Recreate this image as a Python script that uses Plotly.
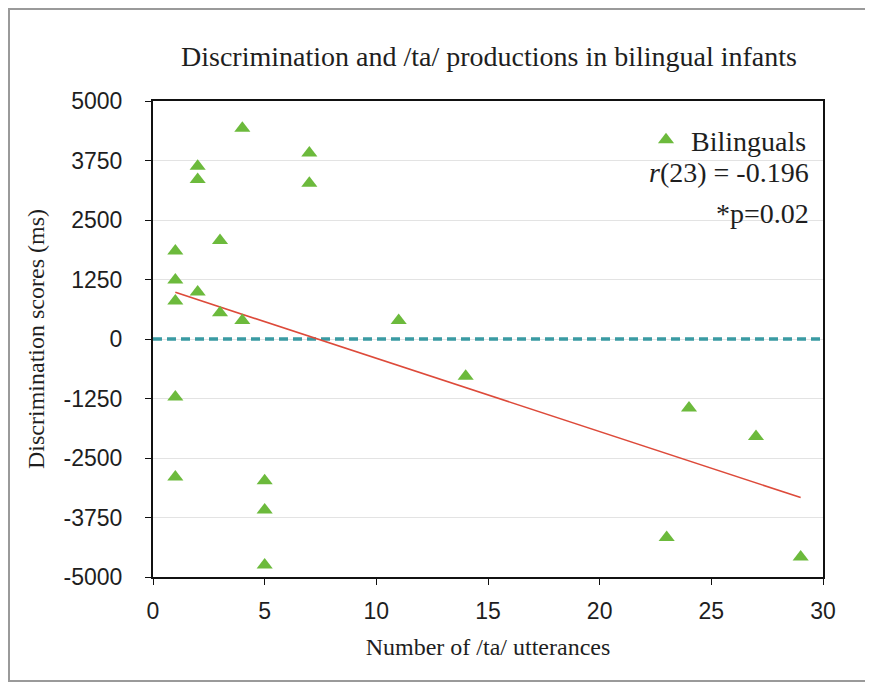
import plotly.graph_objects as go

# Data
utterances = [1, 1, 1, 1, 1, 2, 2, 2, 3, 3, 4, 4, 7, 7, 5, 5, 5, 11, 14, 24, 27, 23, 29]
scores = [1850, 1240, 800, -1220, -2900, 3630, 3350, 990, 2070, 550, 4430, 390,
          3910, 3270, -2980, -3590, -4750, 390, -780, -1450, -2050, -4170, -4580]
trend_x = [1, 29]
trend_y = [980, -3330]
zero_x = [0, 30]
zero_y = [0, 0]
y_ticks = [-5000, -3750, -2500, -1250, 0, 1250, 2500, 3750, 5000]
y_labels = ["-5000", "-3750", "-2500", "-1250", "0", "1250", "2500", "3750", "5000"]
x_ticks = [0, 5, 10, 15, 20, 25, 30]

W, H = 873, 682
OX, OY = 8, 7          # page offset of the figure
L, T = 153 - OX, 100 - OY
pw, ph = 670, 476
R, B = W - L - pw, H - T - ph

def px(x):             # screen x -> paper x
    return (x - OX - L) / pw

def py(y):             # screen y -> paper y
    return (T + ph - (y - OY)) / ph

fig = go.Figure()

fig.add_trace(go.Scatter(
    x=zero_x, y=zero_y, mode="lines",
    line=dict(color="#3a9ba3", width=3.5, dash="9px,5px"),
    showlegend=False, hoverinfo="skip"))

fig.add_trace(go.Scatter(
    x=trend_x, y=trend_y, mode="lines",
    line=dict(color="#dd4a3a", width=1.6),
    showlegend=False, hoverinfo="skip"))

fig.add_trace(go.Scatter(
    x=utterances, y=scores, mode="markers", name="Bilinguals",
    marker=dict(symbol="triangle-up", size=14, color="#6cba3c")))

serif = "Liberation Serif"
sans = "Liberation Sans"
txt = "#1e1e1e"

fig.update_layout(
    width=W, height=H,
    margin=dict(l=L, r=R, t=T, b=B),
    paper_bgcolor="white", plot_bgcolor="white",
    title=dict(text="Discrimination and /ta/ productions in bilingual infants",
               x=(489 - OX) / W, xanchor="center", y=1 - (55 - OY) / H, yanchor="middle",
               font=dict(family=serif, size=28, color=txt)),
    xaxis=dict(range=[0, 30], tickvals=x_ticks, showgrid=False, zeroline=False,
               showline=True, linecolor="#111", linewidth=2, mirror=True,
               ticks="outside", ticklen=6, tickcolor="#111",
               ticklabelstandoff=6,
               tickfont=dict(family=sans, size=23, color=txt),
               title=dict(text="Number of /ta/ utterances",
                          font=dict(family=serif, size=24, color=txt),
                          standoff=16)),
    yaxis=dict(range=[-5000, 5000], tickvals=y_ticks, ticktext=y_labels,
               showgrid=True, gridcolor="#e3e3e3", gridwidth=1, zeroline=False,
               showline=True, linecolor="#111", linewidth=2, mirror=True,
               ticks="outside", ticklen=6, tickcolor="#111",
               ticklabelstandoff=18,
               tickfont=dict(family=sans, size=23, color=txt),
               title=dict(text="Discrimination scores (ms)",
                          font=dict(family=serif, size=24, color=txt),
                          standoff=12)),
    legend=dict(x=px(812), xanchor="right", y=py(114), yanchor="top",
                bgcolor="rgba(0,0,0,0)", borderwidth=0,
                font=dict(family=serif, size=28, color=txt),
                itemwidth=40),
    showlegend=True,
)

fig.add_annotation(text="<i>r</i>(23) = -0.196", xref="paper", yref="paper",
                   x=px(811), y=py(171), xanchor="right", yanchor="middle",
                   showarrow=False, font=dict(family=serif, size=28, color=txt))
fig.add_annotation(text="*p=0.02", xref="paper", yref="paper",
                   x=px(811), y=py(212), xanchor="right", yanchor="middle",
                   showarrow=False, font=dict(family=serif, size=28, color=txt))

fig.add_shape(type="rect", xref="paper", yref="paper",
              x0=px(9), x1=px(869), y0=py(680), y1=py(8),
              line=dict(color="#9a9a9a", width=2), layer="below")

fig.write_html("out.html")
